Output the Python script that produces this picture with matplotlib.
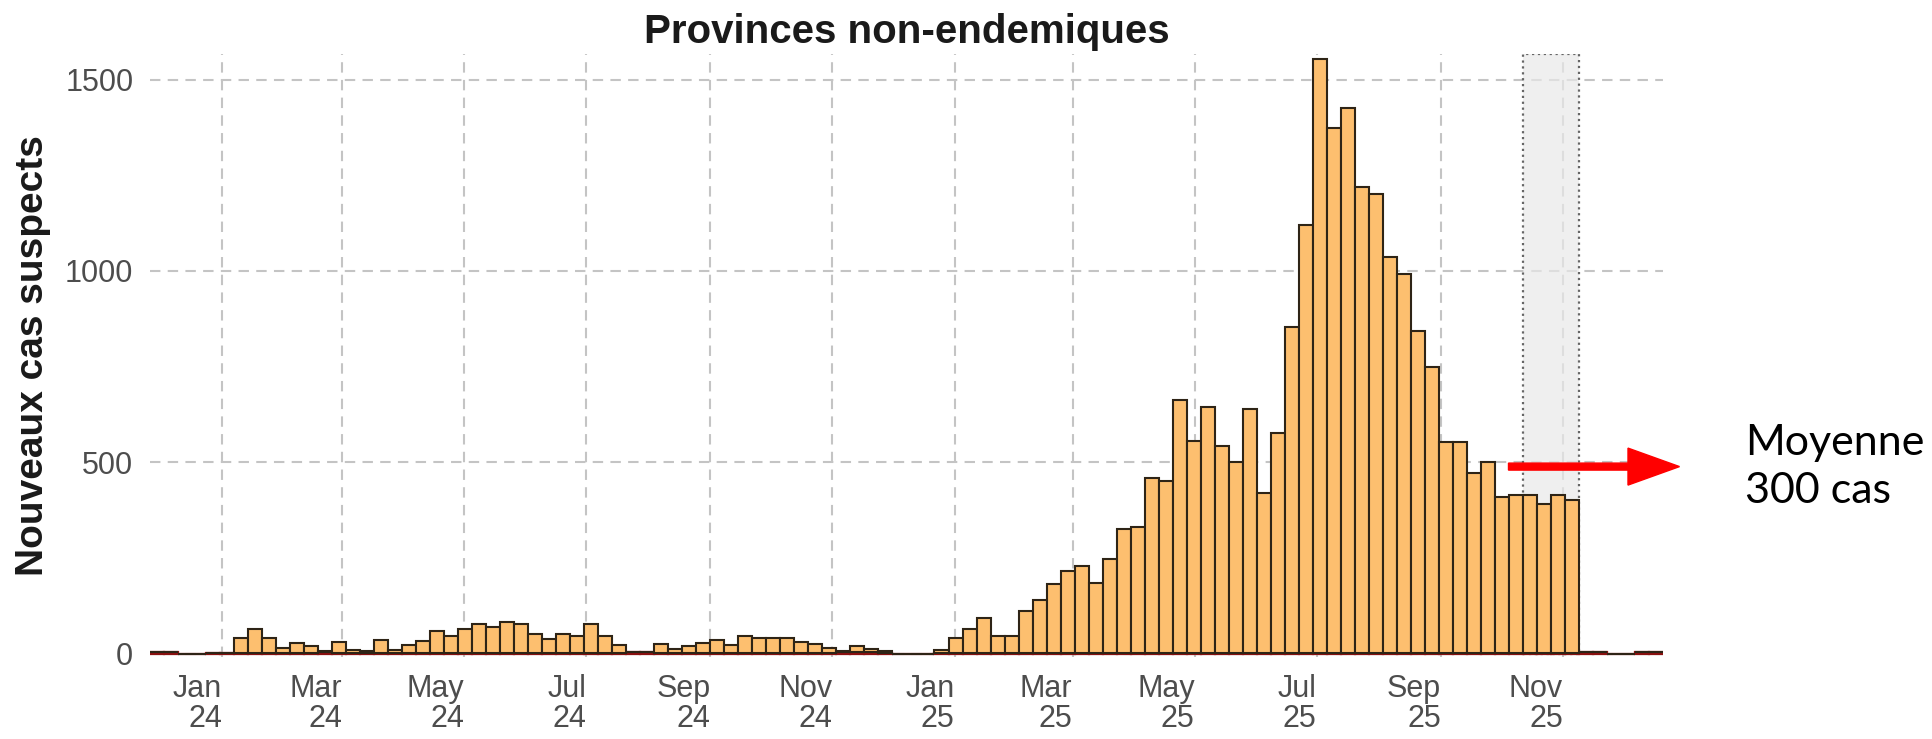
import datetime as dt
import matplotlib
matplotlib.use("Agg")
import matplotlib.pyplot as plt
import matplotlib.dates as mdates
from matplotlib.patches import Rectangle, FancyArrow

# weekly data, weeks starting on Sunday, from 26 Nov 2023 to 14 Dec 2025
first_week = dt.date(2023, 11, 26)
cas = [0, 0, 0, 0, 0, 0,
       39, 63, 39, 13, 26, 19, 3, 28, 8, 5,
       33, 7, 19, 30, 57, 44, 63, 74, 68, 80,
       74, 48, 37, 50, 44, 74, 44, 19, 0, 0,
       22, 10, 17, 26, 33, 19, 44, 39, 39, 39,
       28, 22, 13, 4, 16, 9, 4, 0, 0, 0, 9,
       39, 63, 91, 44, 44, 109, 138, 179, 213, 226,
       183, 244, 324, 328, 457,
       449, 660, 553, 643, 540, 498, 638, 417, 573,
       852, 1119, 1552, 1372, 1424, 1217, 1200, 1035, 991, 841, 748,
       551, 551, 469, 498, 408, 411, 411, 390, 411, 399,
       0, 0, 0, 0, 0, 0]
deces = [3, 3, 0, 0, 2, 2,
         2, 2, 2, 1, 2, 1, 3, 2, 1, 1,
         2, 1, 2, 2, 2, 2, 2, 2, 2, 2,
         2, 2, 2, 2, 2, 2, 2, 2, 3, 3,
         2, 2, 2, 2, 2, 2, 2, 2, 2, 2,
         2, 2, 2, 3, 4, 3, 2, 0, 0, 0, 1,
         2, 2, 2, 2, 2, 2, 2, 2, 2, 2,
         2, 2, 2, 2, 2,
         2, 2, 2, 2, 2, 2, 2, 2, 2,
         2, 2, 2, 2, 2, 2, 2, 2, 2, 2, 2,
         2, 2, 2, 2, 2, 2, 2, 2, 2, 2,
         3, 3, 0, 0, 3, 3]

weeks = [first_week + dt.timedelta(days=7 * i) for i in range(len(cas))]
highlight_start = dt.date(2025, 10, 12)
highlight_end = dt.date(2025, 11, 9)

tick_dates = [dt.date(y, m, 1) for y in (2024, 2025) for m in (1, 3, 5, 7, 9, 11)]
tick_labels = [d.strftime("%b") + "\n" + d.strftime("%y") for d in tick_dates]

fig = plt.figure(figsize=(19.33, 7.39), dpi=100)
ax = fig.add_axes([0.0776, 0.1105, 0.7827, 0.8168])

x = mdates.date2num(weeks)
ymax = max(cas) * 1.01

# shaded period with dotted frame
hx0 = mdates.date2num(highlight_start)
hx1 = mdates.date2num(highlight_end)
ax.add_patch(Rectangle((hx0, 0), hx1 - hx0, ymax, facecolor="#e9e9e9",
                       alpha=0.7, edgecolor="none", zorder=1))
ax.add_patch(Rectangle((hx0, 0), hx1 - hx0, ymax, fill=False,
                       edgecolor="#666666", linestyle=":", linewidth=1.6, zorder=1.5))

ax.bar(x, deces, width=7, align="edge", color="#a31515",
       edgecolor="#8b1010", linewidth=1.6, zorder=2)
ax.bar(x, cas, width=7, bottom=deces, align="edge", color="#fdbf6f",
       edgecolor="#2e2416", linewidth=1.5, zorder=2)

ax.set_xlim(x[0], x[-1] + 7)
ax.set_ylim(-10, ymax)
ax.set_yticks([0, 500, 1000, 1500])
ax.set_xticks(mdates.date2num(tick_dates))
ax.set_xticklabels(tick_labels, ha="right", linespacing=1.0)

ax.grid(True, color="#c4c4c4", linestyle=(0, (5, 3.5)), linewidth=1.5)
ax.set_axisbelow(True)
for s in ax.spines.values():
    s.set_visible(False)
ax.tick_params(axis="both", length=0, labelsize=22, labelcolor="#4d4d4d")
ax.tick_params(axis="y", pad=12)
ax.tick_params(axis="x", pad=12)
for lab in ax.get_xticklabels() + ax.get_yticklabels():
    lab.set_fontfamily("Liberation Sans")

ax.set_title("Provinces non-endemiques", fontsize=29, fontweight="bold",
             family="Liberation Sans", color="#1a1a1a", pad=8)
fig.text(33 / 1933, 1 - 356 / 739, "Nouveaux cas suspects", rotation=90,
         ha="center", va="center", fontsize=28, fontweight="bold",
         family="Liberation Sans", color="#1a1a1a")

# red arrow and note
arrow = FancyArrow(15.085, 2.724, 1.71, 0, width=0.07, head_width=0.37,
                   head_length=0.515, length_includes_head=True,
                   color="#ff0000", transform=fig.dpi_scale_trans)
fig.add_artist(arrow)
fig.text(1745 / 1933, 1 - 467 / 739, "Moyenne\n300 cas", ha="left", va="center",
         fontsize=31, family="Lato", color="black", linespacing=1.3)

fig.savefig("out.png", dpi=100)
